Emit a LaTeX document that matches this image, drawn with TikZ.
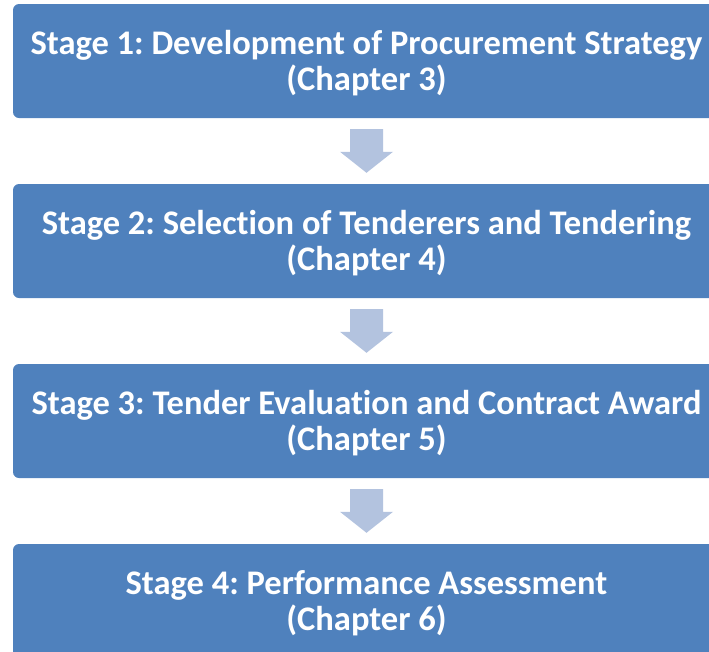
\documentclass[tikz,border=0pt]{standalone}
\usepackage{fontspec}
\setmainfont{Carlito}[Ligatures={NoCommon}]
\frenchspacing
\definecolor{boxblue}{HTML}{4F81BD}
\definecolor{arrowblue}{HTML}{B3C3DF}
\begin{document}
\begin{tikzpicture}[x=1pt,y=1pt,
  stagebox/.style={fill=boxblue, draw=none, rounded corners=6pt, minimum width=707pt, minimum height=114pt,
    text=white, font=\fontsize{34.5}{36}\selectfont\bfseries\frenchspacing, align=center, inner sep=0pt},
  stagetext/.style={stagebox, fill=none, minimum height=0pt},
  downarrow/.style={fill=arrowblue, draw=none}]
\useasboundingbox (0,0) rectangle (709,-651);
\clip (0,0) rectangle (709,-651);
\node[stagebox] (s1) at (366.5,-61) {};
\node[stagebox] (s2) at (366.5,-241) {};
\node[stagebox] (s3) at (366.5,-421) {};
\node[stagebox] (s4) at (366.5,-601) {};
\node[stagetext] (t1) at (366.5,-63) {Stage 1: Development of Procurement Strategy\\(Chapter 3)};
\node[stagetext] (t2) at (366.5,-243) {Stage 2: Selection of Tenderers and Tendering\\(Chapter 4)};
\node[stagetext] (t3) at (366.5,-423) {Stage 3: Tender Evaluation and Contract Award\\(Chapter 5)};
\node[stagetext] (t4) at (366.5,-603) {Stage 4: Performance Assessment\\(Chapter 6)};
\foreach \a/\b/\n in {s1/s2/a1, s2/s3/a2, s3/s4/a3}{
  \path (\a.south) ++(0,-11) coordinate (\n top);
  \path (\b.north) ++(0,11) coordinate (\n tip);
  \fill[downarrow] (\n tip) -- ([xshift=26.5,yshift=21]\n tip) -- ([xshift=16.5,yshift=21]\n tip)
     -- ([xshift=16.5]\n top) -- ([xshift=-16.5]\n top) -- ([xshift=-16.5,yshift=21]\n tip)
     -- ([xshift=-26.5,yshift=21]\n tip) -- cycle;
}
\end{tikzpicture}
\end{document}
